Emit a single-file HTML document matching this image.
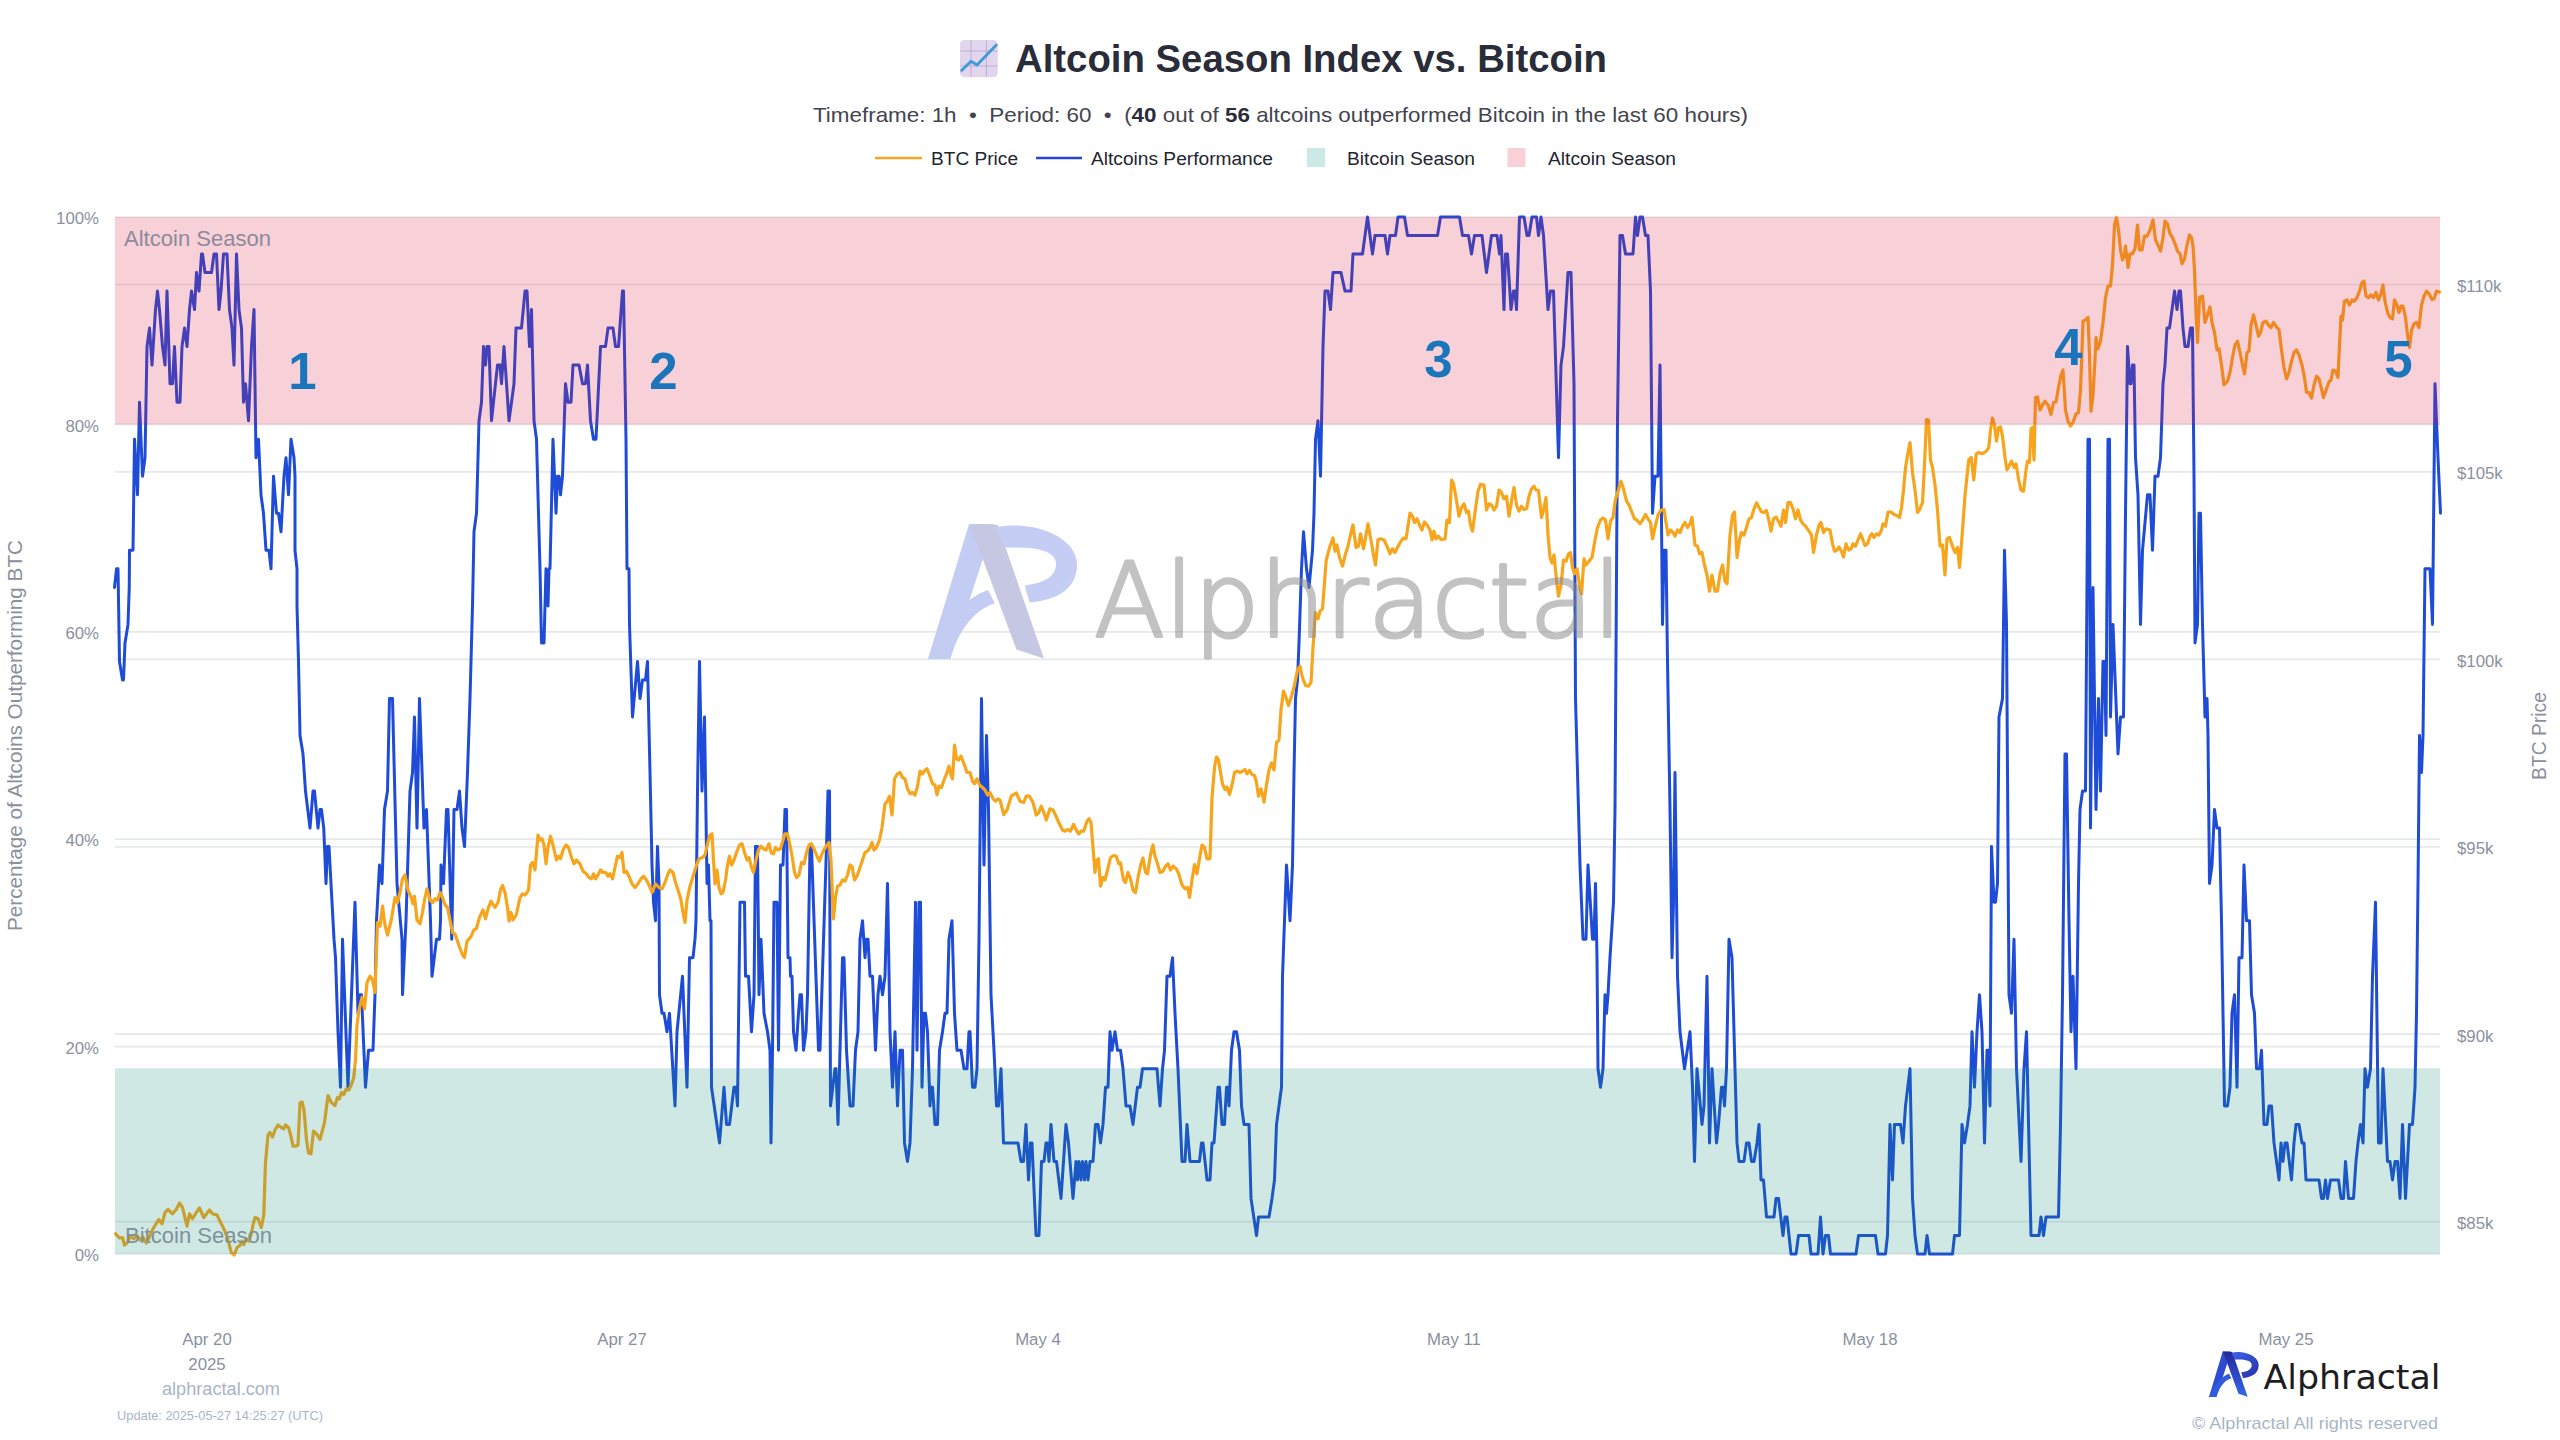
<!DOCTYPE html>
<html lang="en">
<head>
<meta charset="utf-8">
<title>Altcoin Season Index vs. Bitcoin</title>
<style>
html,body{margin:0;padding:0;background:#fff;}
body{width:2560px;height:1440px;overflow:hidden;font-family:"Liberation Sans",sans-serif;}
svg{display:block;position:absolute;left:0;top:0;}
.t{font-family:"Liberation Sans",sans-serif;}
.ax{font-family:"Liberation Sans",sans-serif;fill:#8a909e;font-size:16.8px;}
.lt{font-family:"Liberation Sans",sans-serif;fill:#a9b5c6;}
.num{font-family:"Liberation Sans",sans-serif;font-weight:bold;font-size:51px;fill:#1b75bb;}
.wm{font-family:"DejaVu Sans Light","DejaVu Sans",sans-serif;font-weight:200;}
</style>
</head>
<body>
<svg width="2560" height="1440" viewBox="0 0 2560 1440">
<defs>
<linearGradient id="gA" x1="0" y1="0" x2="0" y2="1"><stop offset="0" stop-color="#26279a"/><stop offset="1" stop-color="#3468e8"/></linearGradient>
<linearGradient id="gP" x1="0" y1="0" x2="1" y2="1"><stop offset="0" stop-color="#3b66ea"/><stop offset="1" stop-color="#2a2fa6"/></linearGradient>
<g id="logo">
<path d="M130,0 L210,0 L70,430 L0,430 Z" fill="#2d4ccf"/>
<path d="M0,430 C55,300 125,232 190,210 L212,252 C150,272 100,330 70,430 Z" fill="#2f5be0"/>
<path d="M132,0 L221,3 L367,428 L280,400 Z" fill="url(#gA)"/>
<path d="M215,10 C330,-12 472,38 472,130 C472,222 380,246 322,250 L306,196 C360,190 410,170 405,122 C400,82 330,70 243,76 Z" fill="url(#gP)"/>
</g>
<g id="logow">
<path d="M130,0 L210,0 L70,430 L0,430 Z" fill="#c3ccf3"/>
<path d="M0,430 C55,300 125,232 190,210 L212,252 C150,272 100,330 70,430 Z" fill="#c3ccf3"/>
<path d="M132,0 L221,3 L367,428 L280,400 Z" fill="#c6c7e2"/>
<path d="M215,10 C330,-12 472,38 472,130 C472,222 380,246 322,250 L306,196 C360,190 410,170 405,122 C400,82 330,70 243,76 Z" fill="#c5cdf4"/>
</g>
</defs>
<rect x="0" y="0" width="2560" height="1440" fill="#ffffff"/>
<!-- gridlines -->
<g stroke="#e6e9ea" stroke-width="1.700" fill="none">
<line x1="115" y1="1254.0" x2="2440" y2="1254.0"/>
<line x1="115" y1="1046.6" x2="2440" y2="1046.6"/>
<line x1="115" y1="839.2" x2="2440" y2="839.2"/>
<line x1="115" y1="631.8" x2="2440" y2="631.8"/>
<line x1="115" y1="424.4" x2="2440" y2="424.4"/>
<line x1="115" y1="217.0" x2="2440" y2="217.0"/>
<line x1="115" y1="1221.7" x2="2440" y2="1221.7"/>
<line x1="115" y1="1034.2" x2="2440" y2="1034.2"/>
<line x1="115" y1="846.8" x2="2440" y2="846.8"/>
<line x1="115" y1="659.4" x2="2440" y2="659.4"/>
<line x1="115" y1="471.9" x2="2440" y2="471.9"/>
<line x1="115" y1="284.5" x2="2440" y2="284.5"/>
</g>
<!-- data lines -->
<polyline id="alts" fill="none" stroke="#1e4cd6" stroke-width="3" stroke-linejoin="round" stroke-linecap="round" points="114.5,587.4 116.5,568.8 118,568.8 119.5,661.4 122.5,679.9 123.5,679.9 125,642.9 128,624.4 129.25,587.4 129.5,550.3 133,550.3 134.5,439.2 137.5,494.8 139.5,402.2 142.5,476.2 145,457.7 147,346.6 149.5,328.1 152,365.1 155.5,309.6 157.5,291.1 159.5,309.6 162.5,346.6 165,365.1 167,291.1 170,383.7 172.5,383.7 174.5,346.6 177,402.2 180,402.2 182,346.6 184.5,328.1 187,346.6 189.5,309.6 191.5,291.1 194.5,309.6 196.5,272.6 199,291.1 201.5,254 202.5,254 205,272.6 211.5,272.6 214,254 216.5,254 219,309.6 221,291.1 223.5,254 227,254 229.5,309.6 232,328.1 234,365.1 236.5,254 239,309.6 241.5,328.1 243.5,402.2 245.5,383.7 248.5,420.7 251.5,346.6 254,309.6 256,457.7 258.5,439.2 261,494.8 263.5,513.3 266,550.3 269,550.3 271,568.8 273.5,476.2 276.5,513.3 278.5,513.3 281,531.8 284,476.2 286,457.7 288.5,494.8 291,439.2 294,457.7 295,476.2 295,550.3 297,568.8 297,605.9 298.5,661.4 300,735.5 303,754 305.5,791.1 310,828.1 313,791.1 314.5,791.1 318,828.1 320,809.6 321.5,809.6 323.75,828.1 326,883.6 327.5,846.6 329,846.6 332,902.2 334,939.2 334,939.2 335.5,957.7 338,1031.8 340.5,1087.3 342.5,939.2 348,1087.3 355,902.2 355,902.2 358,1013.3 360,994.8 361.5,994.8 365.5,1087.3 368.5,1050.3 373,1050.3 375,994.8 376.5,920.7 376.5,920.7 379.5,865.1 382,883.6 384.5,809.6 387.5,791.1 389.5,698.5 392.5,698.5 397,883.6 402,939.2 402.5,994.8 406,920.7 410,791.1 412.5,772.5 414.5,717 417,828.1 419.5,698.5 424,828.1 426.5,809.6 430.5,920.7 432,976.2 436.5,939.2 439.5,939.2 440.5,920.7 441,865.1 443.5,883.6 446.5,809.6 448,809.6 451.75,939.2 454,809.6 457,809.6 459.5,791.1 462,828.1 464.5,846.6 467.5,772.5 470,698.5 472.5,605.9 474,531.8 476.5,513.3 478,457.7 479,420.7 481.5,402.2 483.5,346.6 485.5,365.1 487,346.6 489,346.6 491.5,420.7 497.5,365.1 500,365.1 501.5,383.7 504,346.6 509,420.7 514,383.7 516,328.1 521.5,328.1 525,291.1 527,291.1 529.5,346.6 531.5,309.6 534,420.7 536.5,439.2 540,568.8 541.5,642.9 544,642.9 546,568.8 548,605.9 549,568.8 550,568.8 553,439.2 556,513.3 557.5,476.2 559,476.2 560.5,494.8 562.5,476.2 565.5,383.7 568,402.2 571,402.2 573,365.1 579,365.1 582.5,383.7 585.5,383.7 587.5,365.1 590.5,420.7 593.5,439.2 596,439.2 600.5,346.6 605.5,346.6 608,328.1 613,328.1 615.5,346.6 618.5,346.6 622.5,291.1 623.5,291.1 626,439.2 627,568.8 629,568.8 629.5,624.4 632.5,717 637.5,661.4 640,698.5 642.5,679.9 645.5,679.9 647.5,661.4 650,772.5 652,865.1 653.5,902.2 655.5,920.7 657.5,846.6 659,883.6 659.5,994.8 662,1013.3 664,1013.3 667,1031.8 669.5,1013.3 675,1105.9 677,1031.8 682.5,976.2 687,1087.3 689.5,957.7 693,957.7 695,939.2 696,920.7 696,920.7 697.5,791.1 699.5,661.4 702,791.1 704.5,717 707,883.6 708.5,865.1 710,920.7 711,920.7 711.5,1087.3 719.5,1142.9 724,1087.3 726.5,1124.4 729.5,1124.4 734,1087.3 736,1087.3 737.5,1105.9 740,902.2 744.5,902.2 745.5,976.2 748.5,976.2 751.5,1031.8 754,994.8 755.5,846.6 757.5,846.6 759,994.8 761,939.2 764,1013.3 767.5,1031.8 770,1050.3 771,1142.9 772.5,1050.3 774,902.2 777,902.2 778.5,1050.3 780.5,865.1 783,865.1 785,809.6 786.5,809.6 788,957.7 790,957.7 790.5,976.2 792,976.2 793.5,1031.8 796,1050.3 798.5,1013.3 800,994.8 801.5,994.8 803.5,1050.3 806,1031.8 807.5,994.8 810,846.6 811.5,846.6 818.5,1050.3 820,1050.3 826.5,846.6 828,791.1 829.5,791.1 830.5,1105.9 835,1068.8 836,1068.8 838,1124.4 840.5,1031.8 842.5,957.7 844,957.7 846.5,1050.3 850,1105.9 853,1105.9 855.5,1050.3 858,1031.8 860,939.2 862.5,920.7 865,957.7 866.5,939.2 868,939.2 870,976.2 872.5,976.2 875.5,1050.3 878,994.8 880,976.2 882.5,994.8 885,976.2 887.5,883.6 890,1031.8 892.5,1087.3 895,1031.8 897.5,1105.9 900,1050.3 902.5,1050.3 904.5,1142.9 907.5,1161.4 910,1142.9 912.5,1068.8 915.5,902.2 917,1050.3 919,902.2 920.5,902.2 922,1087.3 924,1013.3 925.5,1013.3 927.5,1031.8 930,1105.9 931,1087.3 932.5,1087.3 935,1124.4 937.5,1124.4 939.5,1050.3 942.5,1031.8 945,1013.3 947,1013.3 949,939.2 952,920.7 954.5,1013.3 957,1050.3 961,1050.3 964,1068.8 967,1068.8 969,1031.8 970,1031.8 972.5,1087.3 975,1087.3 977,1068.8 979,939.2 980.5,791.1 981.5,698.5 984,865.1 986.5,735.5 988.5,809.6 991,994.8 994,1050.3 996.5,1105.9 998.5,1105.9 1001,1068.8 1003.5,1142.9 1018,1142.9 1021,1161.4 1023.5,1161.4 1026,1124.4 1028.5,1179.9 1030.5,1142.9 1032,1142.9 1036,1235.5 1039,1235.5 1041.5,1161.4 1044,1161.4 1046,1142.9 1047.5,1142.9 1049,1161.4 1051,1124.4 1054,1161.4 1056.5,1161.4 1061,1198.4 1066,1124.4 1068.5,1142.9 1073,1198.4 1076,1161.4 1077.5,1179.9 1079,1161.4 1081,1179.9 1082.5,1161.4 1084.5,1179.9 1086,1161.4 1088,1179.9 1090,1161.4 1093,1161.4 1095.5,1124.4 1098,1124.4 1100.5,1142.9 1103,1124.4 1105.5,1087.3 1108,1087.3 1110,1031.8 1112,1050.3 1115,1031.8 1117.5,1050.3 1120.5,1050.3 1123,1068.8 1126,1105.9 1130,1105.9 1133,1124.4 1137.5,1087.3 1140,1087.3 1142.5,1068.8 1157,1068.8 1160,1105.9 1162.5,1068.8 1164.5,1050.3 1167,976.2 1170,976.2 1172.5,957.7 1175,1013.3 1178,1068.8 1182,1161.4 1185,1161.4 1187,1124.4 1190,1161.4 1199.5,1161.4 1201.5,1142.9 1203,1142.9 1207,1179.9 1210,1179.9 1212,1142.9 1214,1142.9 1218,1087.3 1219.5,1087.3 1222,1124.4 1224.5,1124.4 1226.5,1087.3 1228,1087.3 1229,1105.9 1231.5,1050.3 1234,1031.8 1236.5,1031.8 1239.5,1050.3 1241.5,1105.9 1244,1124.4 1249,1124.4 1251,1198.4 1256.5,1235.5 1258.5,1217 1269,1217 1272,1198.4 1274.5,1179.9 1276.5,1124.4 1281.5,1087.3 1282.5,976.2 1286.5,865.1 1290,920.7 1292.5,865.1 1294,772.5 1295.5,698.5 1297.5,679.9 1299,642.9 1301.5,568.8 1303.5,531.8 1306.5,568.8 1309,587.4 1312.5,550.3 1314,513.3 1315.5,439.2 1318,420.7 1320.5,476.2 1323,346.6 1325,291.1 1328,291.1 1330.5,309.6 1333,272.6 1341,272.6 1345,291.1 1351,291.1 1353,254 1362.5,254 1365,235.5 1367.5,217 1372.5,254 1375,235.5 1380,235.5 1380,235.5 1385,235.5 1387.5,254 1390,235.5 1395.5,235.5 1398,217 1404.5,217 1407.5,235.5 1437.5,235.5 1440.5,217 1459.5,217 1462.5,235.5 1468.5,235.5 1471.5,254 1474.5,235.5 1482,235.5 1486.5,272.6 1491.5,235.5 1497,235.5 1499.5,254 1501,235.5 1504,309.6 1505.5,254 1507.5,254 1511,309.6 1513.5,291.1 1515,291.1 1516.5,309.6 1519.5,217 1524,217 1527,235.5 1529,235.5 1532,217 1536.5,217 1538.5,235.5 1541,217 1543.5,235.5 1548,309.6 1550.5,291.1 1553.5,291.1 1558.5,457.7 1561,365.1 1563.5,346.6 1568,272.6 1571,272.6 1574,383.7 1575.5,698.5 1580,865.1 1583,939.2 1586,939.2 1588,865.1 1592.5,939.2 1594,939.2 1595.5,883.6 1597,957.7 1598,1068.8 1600.5,1087.3 1603,1068.8 1605,994.8 1606.5,1013.3 1608,994.8 1610,957.7 1613.5,902.2 1615,809.6 1617.5,420.7 1620,235.5 1622.5,235.5 1625.5,254 1633,254 1635.5,217 1637.5,235.5 1640,217 1642.5,217 1645.5,235.5 1648,235.5 1650.5,291.1 1652.5,513.3 1655,476.2 1658,476.2 1660,365.1 1662.5,624.4 1664,550.3 1666,550.3 1667.5,661.4 1670,809.6 1672,957.7 1673.5,902.2 1675,772.5 1677.5,976.2 1680,1031.8 1684.5,1068.8 1690,1031.8 1692.5,1087.3 1694.5,1161.4 1697,1068.8 1702,1124.4 1704,1105.9 1707,976.2 1709.5,1142.9 1712,1068.8 1716.5,1142.9 1718.5,1124.4 1721.5,1087.3 1723,1087.3 1724.5,1105.9 1726.5,1068.8 1729,939.2 1732,957.7 1735,1068.8 1737,1142.9 1739,1161.4 1744,1161.4 1746.5,1142.9 1749,1142.9 1751.5,1161.4 1754,1161.4 1757,1142.9 1759,1124.4 1761,1179.9 1763.5,1179.9 1766.5,1217 1774,1217 1776,1198.4 1778.5,1198.4 1783,1235.5 1785,1217 1787,1217 1791,1254 1796,1254 1798.5,1235.5 1809,1235.5 1811,1254 1818,1254 1820.5,1217 1823,1254 1825.5,1235.5 1828.5,1235.5 1830.5,1254 1856,1254 1858.5,1235.5 1875.5,1235.5 1878,1254 1885.5,1254 1887.5,1235.5 1890,1124.4 1892.5,1179.9 1894.5,1124.4 1900.5,1124.4 1903,1142.9 1905.5,1105.9 1910,1068.8 1912.5,1198.4 1915,1235.5 1917.5,1254 1925,1254 1927,1235.5 1929.5,1254 1952.5,1254 1954.5,1235.5 1959.5,1235.5 1962,1124.4 1964.5,1142.9 1967.5,1124.4 1970,1105.9 1972,1031.8 1974.5,1087.3 1977,1031.8 1979.5,994.8 1982,1031.8 1984.5,1142.9 1987,1050.3 1988.5,1050.3 1990,1105.9 1991.5,846.6 1994,902.2 1995.5,902.2 1997.5,883.6 1999,717 2002.5,698.5 2004.5,550.3 2006.5,624.4 2009,994.8 2011.5,1013.3 2014,939.2 2016.5,1068.8 2021,1161.4 2024,1068.8 2026.5,1031.8 2031,1235.5 2039,1235.5 2041,1217 2043.5,1235.5 2046,1217 2058.5,1217 2060.5,1124.4 2062.5,994.8 2065,754 2066.5,754 2069,920.7 2071,1031.8 2073,976.2 2076,1068.8 2078.5,883.6 2080,809.6 2082.5,791.1 2085.5,791.1 2087.5,513.3 2088,439.2 2089.5,439.2 2090.5,828.1 2093,587.4 2096,809.6 2098.5,698.5 2100.5,791.1 2103,661.4 2104.5,661.4 2106,735.5 2108,439.2 2109.5,439.2 2110.5,717 2113,624.4 2118,754 2120.5,717 2123.5,717 2125.5,513.3 2127.5,346.6 2130,383.7 2131,383.7 2132.5,365.1 2134,365.1 2135.5,457.7 2138,494.8 2140.5,624.4 2142.5,550.3 2147.5,494.8 2150,494.8 2152.5,550.3 2155,476.2 2158,476.2 2160.5,457.7 2163,383.7 2165,365.1 2167,328.1 2169.5,328.1 2174.5,291.1 2177,309.6 2179,291.1 2180.5,291.1 2183,328.1 2185,346.6 2188,346.6 2190.5,328.1 2192.5,328.1 2194,476.2 2195,642.9 2197.5,624.4 2199,513.3 2200.5,513.3 2202.5,624.4 2205,717 2207,698.5 2208,735.5 2209.5,883.6 2212,865.1 2214.5,809.6 2217,828.1 2219.5,828.1 2221.5,920.7 2224.5,1105.9 2227.5,1105.9 2230,1087.3 2232,1013.3 2234.5,994.8 2237,1087.3 2239,957.7 2242,957.7 2244,865.1 2246.5,920.7 2249.5,920.7 2251.5,994.8 2254.5,1013.3 2256.5,1068.8 2259.5,1068.8 2261.5,1050.3 2264,1124.4 2267,1124.4 2269,1105.9 2271.5,1105.9 2274,1142.9 2279,1179.9 2281,1142.9 2283,1161.4 2285,1142.9 2287,1142.9 2291.5,1179.9 2294,1142.9 2296,1124.4 2299,1124.4 2302,1142.9 2304,1142.9 2306,1179.9 2319,1179.9 2321.5,1198.4 2323.5,1198.4 2325.5,1179.9 2327.5,1198.4 2330.5,1179.9 2338.5,1179.9 2341,1198.4 2343.5,1198.4 2345.5,1161.4 2348.5,1198.4 2353.5,1198.4 2356,1161.4 2358,1142.9 2360.5,1124.4 2363,1142.9 2365,1068.8 2367.5,1087.3 2370.5,1068.8 2372.5,976.2 2375.5,902.2 2378.5,1142.9 2381,1142.9 2383,1068.8 2387.5,1161.4 2390,1161.4 2392.5,1179.9 2395,1161.4 2397.5,1161.4 2400,1198.4 2402.5,1124.4 2405.5,1198.4 2409.5,1124.4 2412.5,1124.4 2415,1087.3 2416.5,1013.3 2418,883.6 2419.5,735.5 2421.5,772.5 2423,735.5 2425,568.8 2430,568.8 2432.5,624.4 2435,383.7 2438,457.7 2440.5,513.3"/>
<polyline id="btc" fill="none" stroke="#f6a51c" stroke-width="3.2" stroke-linejoin="round" stroke-linecap="round" points="115.5,1233.8 119.5,1238 122.5,1237.5 124.5,1245 127.5,1242.5 130,1236.2 133.75,1238.8 137,1235.5 140,1240 143,1237.5 146.25,1243 150,1235.5 153.75,1227.5 158.75,1219.5 162,1223.8 165,1212.5 168,1209.5 172.5,1213.8 176.25,1209.5 179.5,1203 182.5,1207.5 187,1226.2 189.5,1213.8 192.5,1218.8 196.25,1212.5 199.5,1208 203.75,1217.5 209.5,1210 212.5,1213.8 217,1215 220,1221.2 225,1231.2 228,1240 231.25,1252.5 234.25,1255 237,1247.5 240,1245.5 242,1241.2 243.75,1244.5 246.25,1238.8 248.75,1241.2 251.25,1233.8 253,1225 255,1217.5 258,1218.8 261.25,1227.5 263.75,1215 265.5,1162.5 268,1135 270,1132.5 272.5,1137 275,1130 278,1125 281.25,1127.5 283.75,1128.8 285.5,1125 288.75,1128 291.25,1137.5 293,1146.2 295.5,1146.2 298,1145 300,1103 302,1102 304,1110 306.5,1140 308.5,1153 311,1153.8 313.5,1131.2 316.5,1133.8 320,1139.5 322.5,1130 324.5,1122.5 328,1095.5 331.25,1102.5 335,1105.5 337.5,1097.5 339.5,1098.8 341.5,1092.5 343.75,1094.5 346.25,1088.8 348.75,1090 351.25,1085 353.75,1077.5 355.5,1060 357,1025 359,1010 362,997.5 364.5,1008.8 367,982.5 370,976.2 372.5,980 375,992.5 377.5,922.5 380,926.2 382.5,906.2 385,925 387.5,935 391.25,920 395,897.5 397.5,902.5 400,892.5 402.5,878.8 405,875 408,890 411.25,897.5 413,903.8 414.5,896.2 417,920 420,923.8 422.5,912.5 425,897.5 427,888.8 430,900 432.5,902.5 435,898.8 437.5,900 440,892.5 442.5,897.5 445,905 447.5,907.5 450,920 452.5,932.5 455,933.8 458.75,945 462.5,955 464.5,957.5 467,941.2 471.25,936.2 473.75,930 476.25,928.8 479.5,917.5 483,910 485.5,918.8 488,908.8 491,901.2 495,907.5 498,902.5 500.5,890 502.5,885.5 505,892.5 507.5,907.5 509,921.2 511,912.5 513,920 516.25,915 520,897.5 522.5,893.8 525,895 527,892.5 528.5,890 530.5,865 532.5,862.5 535,870 538,835 540,840 542,838.8 544,845 546,863.8 548,847.5 550.5,836.2 553,845 556.5,860 558.5,856.2 560.5,858.8 563,850 566,845 568.5,847.5 571.5,857.5 574,863.8 576.5,860 580,863.8 583,871.2 586.25,873.8 589,877.5 591.5,878.8 593.5,873.8 595.5,878.8 598,875 600.5,870 603,872.5 606,872.5 608,876.2 610,873.8 612.5,878.8 615,867.5 617.5,856.2 620,857.5 622,852.5 624,872.5 626.5,871.2 629.5,877.5 632,883.8 635,887.5 638,883.8 641,878.8 643.5,876.2 646.5,880 649.5,886.2 652,892.5 655.5,883.8 659,887.5 662,888.8 665,882.5 668,873.8 670,870 673,872.5 675.5,882.5 678,890 681,900 683,912.5 685,922.5 687,900 690,886.2 693.5,875 696.5,865 699,858.8 702.5,857.5 705,855 707.5,843.8 710,835 712,833.8 713.5,860 715,883.8 717,870 719,887.5 721,893.8 723,892.5 725.5,880 727.5,865 729.5,856.2 731.5,865 734,860 736.5,852.5 739.5,845 742,843.8 744.5,852.5 747,860 749,857.5 751.5,867.5 753.5,872.5 756,860 758.5,850 761,846.2 763.5,848.8 766,850 769,843.8 771,852.5 773.5,853.8 775.5,847.5 778,850 780.5,848.8 783,840 785,833.8 787.5,833.8 790,845 792.5,858.8 794.5,872.5 796.5,877.5 799,875 801.5,862.5 804,863.8 806.5,852.5 809,845 811.5,843.8 814.5,850 817.5,857.5 819.5,861.2 822,853.8 824.5,848.8 827,845 829,842.5 831,860 832.5,897.5 833.5,918.8 835.5,897.5 837.5,886.2 840,885 842.5,880 845,881.2 847.5,875 850,865 852,866.2 854.5,880 857,876.2 860,867.5 862.5,860 865,852.5 867.5,851.2 870,847.5 872,842.5 874,850 876.5,847.5 879.5,840 882,827.5 885,803.8 887.5,801.2 889.5,796.2 892,815 894.5,778.8 897.5,773.8 900,772.5 902.5,777.5 905,778.8 907.5,788.8 910,793.8 912.5,792.5 915,795 917.5,786.2 920,771.2 922.5,773.8 925,770 927,768.8 930,776.2 932.5,783.8 935,785 937,795 939,786.2 941.5,787.5 944,780 946.5,773.8 949,766.2 951,775 952.5,778.8 954.5,745 956.5,758.8 958.5,760 961,756.2 964,763.8 967,772.5 970,772.5 972.5,781.2 974.5,783.8 977,778.8 979.5,785 982.5,787.5 985,790 987.5,795 990,792.5 993,798.8 995.5,801.2 998,798.8 1000,800 1003.75,814.5 1007,810 1011.25,796.2 1016.25,793 1020,801.2 1023.75,802.5 1026.25,796.2 1029.5,796.2 1033,802.5 1036.25,815 1038.75,812.5 1041.25,806.2 1043.75,812.5 1046.25,820 1050,808.8 1053,810 1055.5,815 1058.75,822.5 1062.5,830 1065,831.2 1068,829.5 1070.5,831.2 1073.5,824.5 1076.25,830 1078.75,833.8 1081.25,831.2 1083.75,831.2 1087,821.2 1089,818.8 1091,822.5 1093,847.5 1095,872.5 1097,860 1098.5,858.8 1100.5,886.2 1103,877.5 1105,880 1107.5,870 1110.5,857.5 1113.75,855.5 1116.25,856.2 1118.75,863.8 1120.5,863 1123.5,880 1125.5,882.5 1128,872.5 1130.5,878.8 1133,890 1135.5,892.5 1138.5,875 1141,863.8 1143,858 1145.5,872.5 1147.5,873.8 1150.5,855 1153,845 1155,856.2 1157.5,863.8 1160,872.5 1163,871.2 1165.5,866.2 1168,863.8 1170.5,870 1173,866.2 1176.25,868.8 1178.75,873.8 1182,885 1185,888.8 1187.5,887.5 1189.5,897.5 1192,880 1194.5,864.5 1197,873.8 1199.5,858.8 1202,845 1204.5,847.5 1207,858.8 1210,858.8 1212,797.5 1214.5,767.5 1216.5,757 1218.5,760 1220.5,772.5 1222.5,783.8 1225,789.5 1227,787 1229.5,794.5 1232,785 1234.5,772.5 1237,771.2 1240,772.5 1242.5,771.2 1245,769.5 1247,773.8 1249.5,770.5 1252,774.5 1254.5,775.5 1256.5,782.5 1258.5,796.2 1261,788.8 1264,802 1266.5,785 1269,770 1271.5,763 1274,770 1276.5,742.5 1279,740 1281,710 1283.5,691.2 1286,697.5 1288.5,705.5 1291.5,696.2 1294.5,685 1297.5,670 1300,666.2 1302.5,677.5 1305.5,685.5 1308.5,686.2 1311,682.5 1313,647.5 1315.5,612.5 1318,618.8 1320,611.2 1322.5,608.8 1324.5,582.5 1326.25,560 1330,546.2 1333,538 1335,551.2 1337,545 1339.5,557.5 1342.5,566.2 1345.5,553.8 1348,546.2 1350.5,535 1353,525 1356,547.5 1358.5,546.2 1360.5,533.8 1363.5,548.8 1366,535 1368,523.8 1371,540 1373.5,555 1375.5,565 1378,539.5 1381,538.8 1384,540 1387,546.2 1390,553.8 1392.5,548.8 1395,552.5 1398,546.2 1401,541.2 1403.5,538 1406,538.8 1408,526.2 1410,513 1412.5,516.2 1414.5,522.5 1417,518.8 1419.5,525 1422,530 1424.5,522 1427,525 1430,530 1432,540 1434,531.2 1436,538.8 1438.5,536.2 1441,539.5 1445,539 1447,520 1449.5,522.5 1451.5,480 1453.5,483.8 1456,497.5 1459,516.2 1461.5,507.5 1464,503.8 1466.5,512.5 1468.5,511.2 1470.5,525 1472.5,531.2 1475,512.5 1478,491.2 1480.5,484.2 1484,485 1486.5,510 1489,503.8 1491.5,505 1494,510 1496.5,506.2 1499,490 1501.5,492.5 1504,498.8 1506.5,496.2 1509,516.2 1511.5,501.2 1514,487.5 1516.5,505 1519,511.2 1521.5,506.2 1524,509.5 1526.5,508.8 1529,496.2 1531.5,488.8 1534,486.2 1536,490 1538.5,490.5 1541.5,517.5 1543.5,510 1546,497.5 1548,535 1550,557.5 1552,563 1554,555 1556.5,580 1558.5,596.2 1561,585 1563.5,560 1566,561.2 1568.5,553.8 1570.5,552.5 1572.5,567.5 1574.5,573.8 1577,568.8 1579.5,585 1581.5,593.8 1584,558.8 1586,565 1589,561.2 1592,557.5 1595,540 1597.5,527.5 1600.5,520 1603,518 1605.5,520 1608,538.8 1610.5,521.2 1613,517.5 1615.5,498.8 1618.5,490 1621,481.2 1623.5,488.8 1626.5,501.2 1629,505 1632,512.5 1634.5,518.8 1637,520 1640,523.8 1642.5,520 1645.5,514.5 1648,518.8 1650.5,522.5 1652.5,538.8 1655,527.5 1658,515 1661,510 1664,509.5 1666,522.5 1668,535 1670.5,530 1673,532.5 1675,536.2 1677.5,530 1680,532.5 1682.5,526.2 1685,522.5 1687.5,527.5 1690,523.8 1692,517.5 1695,545 1697.5,546.2 1699.5,553.8 1702,552.5 1704.5,565 1707,575 1709.5,591.2 1712,575 1715,591.2 1717.5,591.2 1720,573.8 1722.5,565 1725,581.2 1727,583.8 1730,535 1732.5,515 1734.5,512 1737,557.5 1739.5,540 1741.5,532.5 1744,535 1746.5,527.5 1749,518.8 1751.5,517.5 1754,508.8 1756.5,503 1759,507.5 1761.5,512 1764,512.5 1766.5,510.5 1769,521.2 1771,531.2 1773.5,518.8 1776,517 1778.5,521.2 1781,526.2 1783.5,510 1785.5,522.5 1788,502.5 1790.5,502.5 1793,508.8 1795.5,518.8 1798,510 1800.5,520 1803,523.8 1805.5,526.2 1809,531.2 1811.5,535 1813.5,552.5 1816.5,535 1819,525 1821,522.5 1823.5,532.5 1826,528.8 1830,530 1832.5,543.8 1834.5,551.2 1837,550 1839,547 1841.5,551.2 1843.5,557 1846,543.8 1848.5,550 1851,548.8 1853,543.8 1855.5,546.2 1858,540 1860.5,533.8 1862.5,538.8 1865,545.5 1867.5,543.8 1870,536.2 1872,533.8 1874,537.5 1876.5,533.8 1879,535 1881.5,530 1883,523.8 1885.5,526.2 1888,512 1891,512 1894,514.5 1897,515.5 1899.5,517.5 1901.5,507.5 1903.5,490 1905.5,467.5 1908,452.5 1910,442.5 1912.5,472.5 1915,490 1917.5,512.5 1920,508.8 1922.5,502.5 1924.5,465 1926.5,419.5 1928.5,420 1930.5,460 1932.5,467.5 1935,485 1937.5,510 1940,546.2 1942.5,545 1945,575 1947,538.8 1949.5,537.5 1952.5,546.2 1955,552.5 1957.5,547.5 1959.5,567.5 1962,537.5 1965,495 1968.75,460 1971.25,457.5 1973.75,480 1976.25,453.8 1978.75,452.5 1982.5,453.8 1986.25,451.2 1988.75,447.5 1990.5,430 1992.5,418 1994.5,425 1996.5,441.2 1998.5,427.5 2000.5,427 2002.5,436.2 2005,457.5 2007,470 2009.5,465 2011.5,461.2 2014,467.5 2016,463.8 2018.5,478.8 2021,490 2023.5,491.2 2026,470 2027.5,461.2 2029.5,462.5 2031,428.8 2032.5,427.5 2034,460 2035.5,397.5 2037.5,397 2040,410 2042.5,405 2045,401.2 2048,405 2051,414.5 2053.5,402.5 2056,402 2058.5,387.5 2061,375 2063,370 2065.5,410 2068,421.2 2070.5,426.2 2073,422.5 2076,413.8 2078.5,412.5 2080.5,390 2082,350 2083,321.2 2085.5,320 2088,317.5 2089.5,355 2091,411.2 2093,395 2095,360 2096,337.5 2098,348.8 2100.5,341.2 2103,322.5 2105.5,297.5 2108,286.2 2110.5,286.2 2112.5,265 2114.5,225 2116.5,217.5 2118.5,230 2120.5,250 2122.5,260 2124.5,255 2125.5,246.2 2128,267.5 2130,253.8 2132.5,253.8 2135,248.8 2137.5,225 2139.5,250 2142,250 2144.5,236.2 2147,236.2 2150,230 2153,220 2155.5,240 2158,245 2160.5,251.2 2163,237.5 2165,221.2 2167.5,223.8 2170,233.8 2172.5,237.5 2175,243.8 2177.5,251.2 2180,253.8 2182,263.8 2184.5,258.8 2187,245 2189.5,235 2191.5,237.5 2193,246.2 2194.5,270 2196,312.5 2197.5,342.5 2199.5,297.5 2202.5,296.2 2205,322.5 2207.5,315 2210,307 2212,322.5 2214.5,332.5 2217,350 2219,348.8 2221.5,365 2224,385 2227.5,381.2 2230,372.5 2232.5,357.5 2235,345 2237.5,341.2 2240,352.5 2242.5,365 2244.5,373.8 2247,352.5 2249,351.2 2251,325 2253.5,315 2256,325 2258.5,336.2 2260.5,332.5 2263,322.5 2266,321.2 2268.5,325 2271,327.5 2273.5,322.5 2276,326.2 2279,330 2281.5,350 2284,367.5 2286.5,378.8 2289,372.5 2291.5,361.2 2294,352.5 2296.5,350 2299,355 2302,365 2304.5,377.5 2306.5,392.5 2309,392.5 2311.5,398 2314,385 2316.5,376.2 2319,378.8 2321.5,388.8 2323.5,397.5 2326.5,388.8 2329,382 2331,380 2333,370 2335.5,371.2 2338,377.5 2339.5,345 2341,316.2 2342.5,320 2344.5,301.2 2347,300 2349.5,305 2352,300 2354.5,301.2 2357,297.5 2359.5,291.2 2362,282.5 2364,281.2 2366,296.2 2368.5,297.5 2371,295 2373.5,297.5 2376,292.5 2378.5,300 2381,293.8 2383,285 2385,301.2 2387.5,312.5 2390,317.5 2392.5,318.8 2394.5,300 2397,305 2399,312.5 2401,306.2 2403,306.2 2405.5,317.5 2407.5,335 2409.5,347.5 2411.5,330 2414,323.8 2416.5,322.5 2419,327.5 2421.5,305 2424,296.2 2426.5,291.2 2429,293.8 2432,299.5 2434,298.8 2436.5,291.2 2439.5,292"/>
<!-- season bands (drawn above lines) -->
<rect x="115" y="217" width="2325" height="207.5" fill="rgb(220,20,60)" fill-opacity="0.2"/>
<rect x="115" y="1068.300" width="2325" height="185.700" fill="rgb(15,140,122)" fill-opacity="0.2"/>
<text class="t" x="124" y="246" font-size="21.5" fill="#8d8a9a" textLength="147" lengthAdjust="spacingAndGlyphs">Altcoin Season</text>
<text class="t" x="125" y="1243" font-size="21.5" fill="#7d9299" textLength="147" lengthAdjust="spacingAndGlyphs">Bitcoin Season</text>
<!-- watermark -->
<g opacity="1">
<use href="#logow" transform="translate(928,524) scale(0.3158,0.314)"/>
<g opacity="0.52"><text class="wm" x="1094" y="637" font-size="104" fill="#8c8c8c" stroke="#8c8c8c" stroke-width="3.200" stroke-linejoin="round" textLength="528" lengthAdjust="spacingAndGlyphs">Alphractal</text></g>
</g>
<!-- annotations -->
<text class="num" x="302.500" y="389" text-anchor="middle">1</text>
<text class="num" x="663.500" y="389" text-anchor="middle">2</text>
<text class="num" x="1438.500" y="377" text-anchor="middle">3</text>
<text class="num" x="2068.500" y="365" text-anchor="middle">4</text>
<text class="num" x="2398.500" y="377" text-anchor="middle">5</text>
<!-- title -->
<g>
<rect x="960" y="40" width="37.800" height="37.200" rx="4.500" fill="#e2d6ee"/>
<path d="M971,40.500 V76.800 M986.400,40.500 V76.800 M960.500,51 H997.500 M960.500,66 H997.500" stroke="#b7a5c8" stroke-width="0.800" fill="none"/>
<path d="M960.800,71.300 L971,61.300 L977,65 L997,44.200" stroke="#3f9ad8" stroke-width="2.800" fill="none" stroke-linejoin="round" stroke-linecap="butt"/>
<text class="t" x="1015" y="72" font-size="38" font-weight="bold" fill="#2a2c3a" textLength="592" lengthAdjust="spacingAndGlyphs">Altcoin Season Index vs. Bitcoin</text>
<text class="t" x="813" y="122" font-size="21" fill="#42444e" textLength="935" lengthAdjust="spacingAndGlyphs">Timeframe: 1h&#160;&#160;•&#160;&#160;Period: 60&#160;&#160;•&#160;&#160;(<tspan font-weight="bold" fill="#2a2c3b">40</tspan> out of <tspan font-weight="bold" fill="#2a2c3b">56</tspan> altcoins outperformed Bitcoin in the last 60 hours)</text>
</g>
<!-- legend -->
<g>
<line x1="875" y1="158" x2="922" y2="158" stroke="#f5a623" stroke-width="2.600"/>
<text class="t" x="931" y="164.500" font-size="18" fill="#23252f" textLength="87" lengthAdjust="spacingAndGlyphs">BTC Price</text>
<line x1="1036" y1="158" x2="1082" y2="158" stroke="#2346d6" stroke-width="2.600"/>
<text class="t" x="1091" y="164.500" font-size="18" fill="#23252f" textLength="182" lengthAdjust="spacingAndGlyphs">Altcoins Performance</text>
<rect x="1307" y="148" width="18" height="19" fill="#cde9e5"/>
<text class="t" x="1347" y="164.500" font-size="18" fill="#23252f" textLength="128" lengthAdjust="spacingAndGlyphs">Bitcoin Season</text>
<rect x="1507.500" y="148" width="18" height="19" fill="#f9d0d8"/>
<text class="t" x="1548" y="164.500" font-size="18" fill="#23252f" textLength="128" lengthAdjust="spacingAndGlyphs">Altcoin Season</text>
</g>
<!-- left axis -->
<g class="ax" text-anchor="end">
<text x="99" y="224">100%</text>
<text x="99" y="431.500">80%</text>
<text x="99" y="639">60%</text>
<text x="99" y="846">40%</text>
<text x="99" y="1054">20%</text>
<text x="99" y="1261">0%</text>
</g>
<text class="t" transform="translate(21.500,931) rotate(-90)" font-size="20" fill="#8a909e" textLength="391" lengthAdjust="spacingAndGlyphs">Percentage of Altcoins Outperforming BTC</text>
<!-- right axis -->
<g class="ax">
<text x="2457" y="291.500">$110k</text>
<text x="2457" y="479">$105k</text>
<text x="2457" y="666.500">$100k</text>
<text x="2457" y="854">$95k</text>
<text x="2457" y="1041.500">$90k</text>
<text x="2457" y="1229">$85k</text>
</g>
<text class="t" transform="translate(2546,780) rotate(-90)" font-size="20" fill="#8a909e" textLength="88" lengthAdjust="spacingAndGlyphs">BTC Price</text>
<!-- x axis -->
<g class="ax" text-anchor="middle">
<text x="207" y="1345">Apr 20</text>
<text x="207" y="1370">2025</text>
<text x="622" y="1345">Apr 27</text>
<text x="1038" y="1345">May 4</text>
<text x="1454" y="1345">May 11</text>
<text x="1870" y="1345">May 18</text>
<text x="2286" y="1345">May 25</text>
</g>
<text class="lt" x="162" y="1394.500" font-size="17.500" textLength="118" lengthAdjust="spacingAndGlyphs">alphractal.com</text>
<text class="lt" x="117" y="1420" font-size="13" textLength="206" lengthAdjust="spacingAndGlyphs">Update: 2025-05-27 14:25:27 (UTC)</text>
<!-- brand -->
<use href="#logo" transform="translate(2209,1351.600) scale(0.1053,0.1056)"/>
<text class="wm" x="2263.500" y="1388.500" font-size="34" fill="#1d1d22" textLength="177" lengthAdjust="spacingAndGlyphs" style="font-family:'DejaVu Sans',sans-serif;font-weight:normal">Alphractal</text>
<text class="lt" x="2192" y="1429" font-size="17" textLength="246" lengthAdjust="spacingAndGlyphs">© Alphractal All rights reserved</text>
</svg>
</body>
</html>
